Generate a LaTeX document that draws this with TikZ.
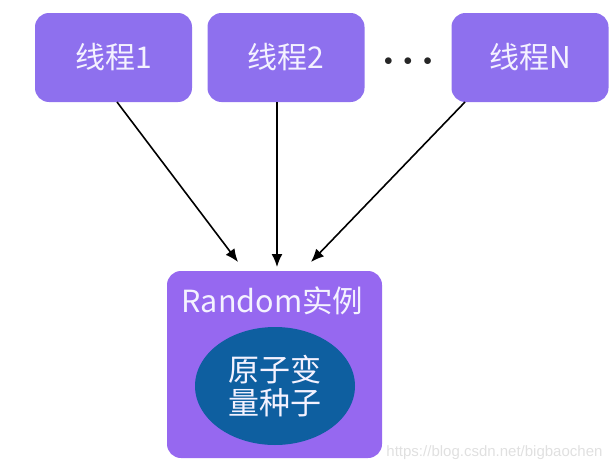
\documentclass[tikz,border=0pt]{standalone}
\usepackage{fontspec}
\setmainfont{Noto Sans CJK SC}
\newfontfamily\markfont{Liberation Sans}
\usepackage{xcolor}
\usetikzlibrary{calc,arrows.meta,shapes.geometric}

\definecolor{threadpurple}{HTML}{8E70EE}
\definecolor{randpurple}{HTML}{9668F0}
\definecolor{seedblue}{HTML}{0E5FA0}
\definecolor{textwhite}{HTML}{F4F2FF}

\begin{document}
\begin{tikzpicture}[x=1pt,y=-1pt,
		thread/.style={fill=threadpurple, rounded corners=14pt, minimum width=157pt, minimum height=89pt, text=textwhite, font=\fontsize{30}{33}\selectfont},
		link/.style={line width=1.6pt, -{Latex[length=13pt,width=11pt]}}]
				\useasboundingbox (0,0) rectangle (614,471);
				
				\node[thread] (t1) at (113.5,57.5) {线程1};
				\node[thread] (t2) at (286,57.5) {线程2};
				\node[thread] (tN) at (530,57.5) {线程N};
				\node[font=\fontsize{16}{20}\selectfont, text=black!85, anchor=base] (dots) at (408,65) {$\bullet\mkern7.5mu\bullet\mkern7.5mu\bullet$};
				
				\node[fill=randpurple, rounded corners=14pt, minimum width=215pt, minimum height=187pt] (rand) at (274.5,364.5) {};
				\node[text=textwhite, font=\fontsize{30.5}{33}\selectfont] (randlbl) at (272.5,301) {Random实例};
				\node[ellipse, fill=seedblue, minimum width=160pt, minimum height=118pt, inner sep=0pt, text=textwhite, align=center, font=\fontsize{31}{33}\selectfont] (seed) at (275,386) {原子变\\量种子};
				
				
				\coordinate (s1) at (117,102);
				\coordinate (s2) at (277,102);
				\coordinate (sN) at (465,102);
				\coordinate (e1) at (238,262);
				\coordinate (e2) at (277,267);
				\coordinate (eN) at (311,262);
				
				\foreach \a/\b in {s1/e1,s2/e2,sN/eN}{
					\draw[link] (\a) -- (\b);}
				
				\node[text=black!12, font=\fontsize{15}{18}\markfont, anchor=east] (mark) at (606,453) {https://blog.csdn.net/bigbaochen};
			\end{tikzpicture}
\end{document}
